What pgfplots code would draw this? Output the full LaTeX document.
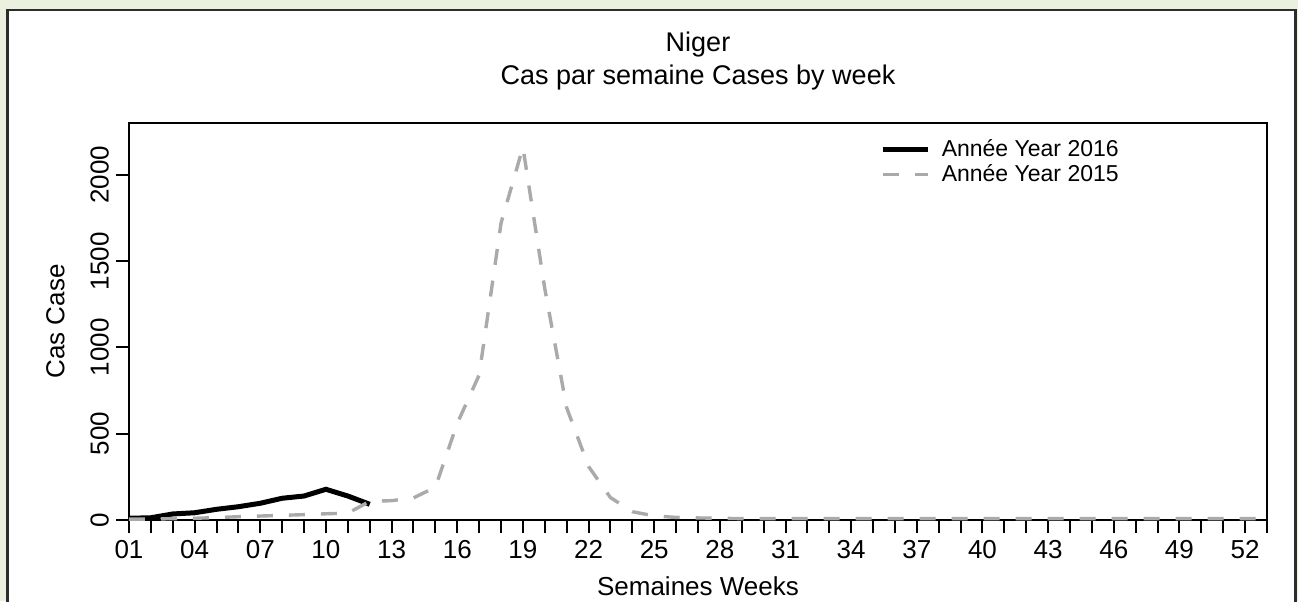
\documentclass[border=0pt]{standalone}
\usepackage{fontspec}
\setmainfont{Liberation Sans}
\usepackage{pgfplots}
\pgfplotsset{compat=1.18}
\definecolor{bggreen}{RGB}{235,241,222}
\definecolor{framecol}{RGB}{45,45,45}
\definecolor{line15}{RGB}{170,170,170}

\begin{document}
\begin{tikzpicture}[font=\fontsize{13}{15}\selectfont]
\useasboundingbox (-64.5pt,-40.5pt) rectangle (584.5pt,260pt);
\fill[bggreen] (-64.5pt,-40.5pt) rectangle (584.5pt,260pt);
\fill[white] (-60.75pt,-45pt) rectangle (583.25pt,255pt);
\draw[framecol, line width=1.3pt] (-60.75pt,-45pt) -- (-60.75pt,255pt) -- (583.25pt,255pt) -- (583.25pt,-45pt);
\begin{axis}[
  at={(0pt,0pt)}, anchor=south west,
  scale only axis, width=569pt, height=198.5pt,
  xmin=1, xmax=53, ymin=0, ymax=2300,
  axis line style={line width=1pt},
  xtick={1,4,...,52},
  xticklabels={01,04,07,10,13,16,19,22,25,28,31,34,37,40,43,46,49,52},
  minor xtick={1,...,53},
  ytick={0,500,1000,1500,2000},
  xtick pos=bottom, ytick pos=left,
  tick align=outside,
  major tick length=6.5pt, minor tick length=6.5pt,
  every tick/.style={black, line width=1pt},
  tick label style={font=\fontsize{13}{15}\selectfont},
  yticklabel style={rotate=90, anchor=south},
  /pgf/number format/assume math mode=true,
  /pgf/number format/1000 sep={},
  scaled y ticks=false,
  xlabel={Semaines Weeks},
  xlabel style={at={(axis description cs:0.5,0)}, anchor=base, yshift=-37.5pt},
  ylabel={Cas Case},
  ylabel style={at={(axis description cs:-0.0646,0.5)}, anchor=center},
  legend style={at={(rel axis cs:0.655,0.98)}, anchor=north west, draw=none, fill=none,
    font=\fontsize{11.5}{13}\selectfont, row sep=-1.5pt},
  legend cell align=left,
  legend image code/.code={\draw[#1] (0pt,0pt) -- (22.5pt,0pt); \path (26pt,0pt);},
]
\addplot[black, line width=2.5pt] coordinates {
(1,10) (2,13) (3,35) (4,42) (5,62) (6,77) (7,97) (8,126) (9,139) (10,178) (11,139) (12,91)
};
\addlegendentry{Année Year 2016}
\addplot[line15, line width=1.7pt, dash pattern=on 8pt off 8pt] coordinates {
(1,5) (2,5) (3,8) (4,10) (5,14) (6,19) (7,23) (8,27) (9,31) (10,36) (11,40) (12,108) (13,112) (14,128)
(15,190) (16,560) (17,840) (18,1720) (19,2160) (20,1340) (21,650) (22,310) (23,130) (24,48) (25,24)
(26,15) (27,12) (28,10) (29,8) (30,8) (31,8) (32,8) (33,8) (34,8) (35,8) (36,8) (37,8) (38,8) (39,8)
(40,8) (41,8) (42,8) (43,8) (44,8) (45,8) (46,8) (47,8) (48,8) (49,8) (50,8) (51,8) (52,8) (53,8)
};
\addlegendentry{Année Year 2015}
\end{axis}
\node[anchor=base, font=\fontsize{13.5}{15}\selectfont] at (284.5pt,234pt) {Niger};
\node[anchor=base, font=\fontsize{13.5}{15}\selectfont] at (284.5pt,218pt) {Cas par semaine Cases by week};
\end{tikzpicture}
\end{document}
